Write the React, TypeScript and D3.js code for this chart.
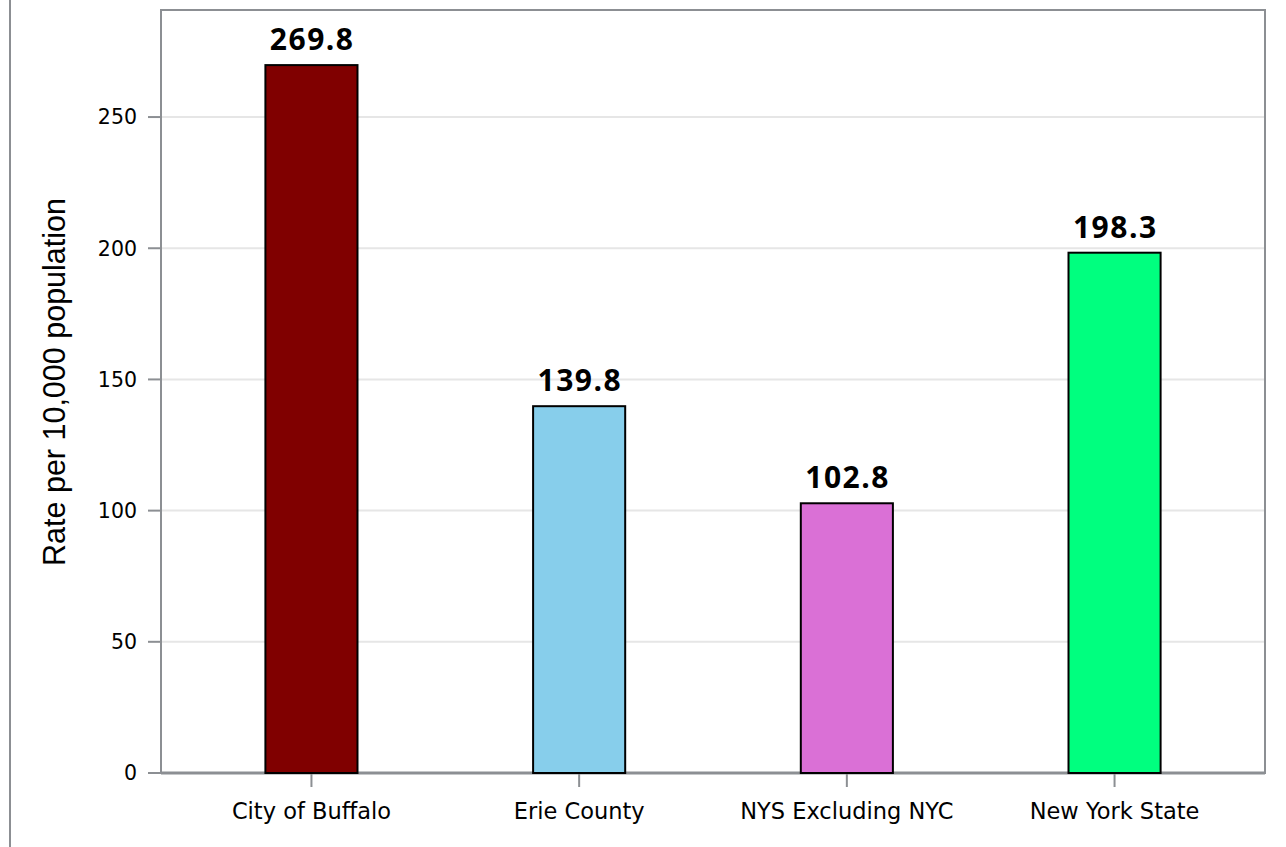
import React from "react";
import * as d3 from "d3";

const categories = ["City of Buffalo", "Erie County", "NYS Excluding NYC", "New York State"];
const values = [269.8, 139.8, 102.8, 198.3];
const colors = ["#800000", "#87ceeb", "#da70d6", "#00ff7f"];
const yTicks = [0, 50, 100, 150, 200, 250];

export default function App() {
  const W = 1286, H = 847;
  const left = 161, right = 1265, top = 10, bottom = 773;
  const y = d3.scaleLinear().domain([0, 290.8]).range([bottom, top]);
  const x = d3.scalePoint<string>().domain(categories).range([left, right]).padding(0.562);
  const step = x.step();
  const bw = step * 0.344;
  const tickFont = "'DejaVu Sans', sans-serif";
  return (
    <svg width={W} height={H} style={{ position: "absolute", left: 0, top: 0, background: "#fff" }}>
      <line x1={10} x2={10} y1={0} y2={H} stroke="#8c8f93" strokeWidth={2} />
      {yTicks.map((t) => (
        <g key={t}>
          {t > 0 && <line x1={left} x2={right} y1={y(t)} y2={y(t)} stroke="#e6e6e6" strokeWidth={2} />}
          <line x1={148} x2={left} y1={y(t)} y2={y(t)} stroke="#8c8f93" strokeWidth={2} />
          <text x={137} y={y(t)} dy="0.36em" textAnchor="end" fontFamily={tickFont} fontSize={20.5} fill="#000">{t}</text>
        </g>
      ))}
      <rect x={left} y={top} width={right - left} height={bottom - top} fill="none" stroke="#8c8f93" strokeWidth={2} />
      <line x1={left} x2={right} y1={bottom} y2={bottom} stroke="#8c8f93" strokeWidth={3} />
      {categories.map((c, i) => {
        const cx = x(c)!;
        return (
          <g key={c}>
            <rect x={cx - bw / 2} y={y(values[i])} width={bw} height={y(0) - y(values[i])} fill={colors[i]} stroke="#000" strokeWidth={2} />
            <text x={cx + 0.75} y={y(values[i]) - 15} textAnchor="middle" fontFamily="'Open Sans', sans-serif" fontWeight="bold" fontSize={30} letterSpacing={1.5} fill="#000">{values[i].toFixed(1)}</text>
            <line x1={cx} x2={cx} y1={bottom + 1} y2={bottom + 14} stroke="#8c8f93" strokeWidth={2} />
            <text x={cx} y={819} textAnchor="middle" fontFamily={tickFont} fontSize={22.5} fill="#000">{c}</text>
          </g>
        );
      })}
      <text transform={`translate(65,382) rotate(-90)`} textAnchor="middle" fontFamily="'Liberation Sans', Arial, sans-serif" fontSize={30.5} fill="#000">Rate per 10,000 population</text>
    </svg>
  );
}
